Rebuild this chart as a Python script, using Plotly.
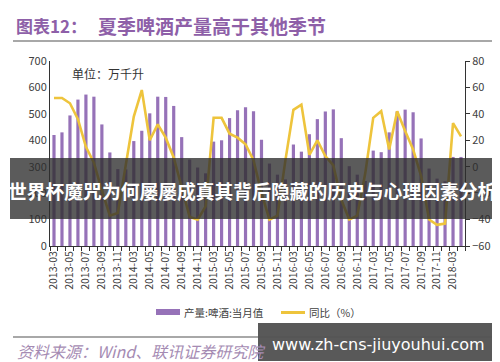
import plotly.graph_objects as go

# ---------------- data ----------------
months = [
    "2013-03", "2013-04", "2013-05", "2013-06", "2013-07", "2013-08", "2013-09", "2013-10", "2013-11", "2013-12",
    "2014-03", "2014-04", "2014-05", "2014-06", "2014-07", "2014-08", "2014-09", "2014-10", "2014-11", "2014-12",
    "2015-03", "2015-04", "2015-05", "2015-06", "2015-07", "2015-08", "2015-09", "2015-10", "2015-11", "2015-12",
    "2016-03", "2016-04", "2016-05", "2016-06", "2016-07", "2016-08", "2016-09", "2016-10", "2016-11", "2016-12",
    "2017-03", "2017-04", "2017-05", "2017-06", "2017-07", "2017-08", "2017-09", "2017-10", "2017-11", "2017-12",
    "2018-03", "2018-04",
]

production = [
    420, 430, 494, 554, 573, 565, 460, 354, 291, 290,
    397, 436, 502, 565, 564, 530, 412, 327, 297, 275,
    395, 400, 484, 514, 525, 510, 402, 312, 270, 252,
    384, 357, 423, 480, 509, 517, 408, 302, 270, 246,
    361, 355, 430, 509, 516, 506, 407, 293, 255, 245,
    337, 337,
]

yoy = [
    52, 52, 48, 36, 15, 3, -18, -37, -35, 2,
    38, 58, 20, 32, 22, 7, -15, -38, -40, -30,
    37, 37, 25, 22, 17, 5, -20, -40, -37, 5,
    43, 47, 9, 20, 8, 1, -25, -40, -37, -5,
    37, 42, 13, 42, 27, 13, -7, -40, -44, -43,
    33, 23,
]

tick_labels = [m if i % 2 == 0 else "" for i, m in enumerate(months)]

bar_name = "产量:啤酒:当月值"
line_name = "同比（%）"
title_prefix = "图表12："
title_text = "夏季啤酒产量高于其他季节"
unit_text = "单位：万千升"
source_text = "资料来源：Wind、联讯证券研究院"
banner_text = "世界杯魔咒为何屡屡成真其背后隐藏的历史与心理因素分析"
watermark_text = "www.zh-cns-jiuyouhui.com"

# ---------------- layout helpers ----------------
W, H = 500, 362
L, R, T, B = 42, 457, 53, 238


def px(x):
    return (x - L) / (R - L)


def py(y):
    return (B - y) / (B - T)


BAR_COLOR = "#9672B8"
LINE_COLOR = "#EEC43C"
PURPLE = "#8E5FA8"
CJK = "Noto Sans CJK SC"
AXIS_FONT = dict(family=CJK, size=10.5, color="#404040")

fig = go.Figure()
fig.add_bar(x=months, y=production, name=bar_name, marker=dict(color=BAR_COLOR, line=dict(width=0)), yaxis="y")
fig.add_scatter(x=months, y=yoy, name=line_name, mode="lines",
                line=dict(color=LINE_COLOR, width=2.6), yaxis="y2")

fig.update_layout(
    width=W, height=H, autosize=False,
    margin=dict(l=L, r=W - R, t=T, b=H - B, pad=0),
    paper_bgcolor="white", plot_bgcolor="white",
    showlegend=False, bargap=0.6,
    font=dict(family=CJK, color="#404040"),
    xaxis=dict(
        type="category", tickmode="array", tickvals=months, ticktext=tick_labels,
        tickangle=-90, ticks="outside", tickson="boundaries", ticklen=4, tickcolor="#333",
        showline=True, linecolor="#333", linewidth=1, showgrid=False, zeroline=False,
        tickfont=AXIS_FONT,
    ),
    yaxis=dict(
        range=[0, 700], dtick=100, showline=True, linecolor="#333", linewidth=1,
        ticks="", showgrid=False, zeroline=False, tickfont=dict(family=CJK, size=11, color="#404040"),
    ),
    yaxis2=dict(
        overlaying="y", side="right", range=[-60, 80], dtick=20, showline=True,
        linecolor="#333", linewidth=1, ticks="outside", ticklen=4, tickcolor="#333",
        showgrid=False, zeroline=False, tickfont=dict(family=CJK, size=11, color="#404040"),
    ),
)

shapes = [
    # title underline
    dict(type="line", xref="paper", yref="paper", x0=px(5), x1=px(490), y0=py(33), y1=py(33),
         line=dict(color="#A8A8A8", width=2)),
    # bottom source line
    dict(type="line", xref="paper", yref="paper", x0=px(5), x1=px(490), y0=py(329), y1=py(329),
         line=dict(color="#A8A8A8", width=2)),
    # legend bar symbol
    dict(type="rect", xref="paper", yref="paper", x0=px(148), x1=px(172), y0=py(307), y1=py(301),
         fillcolor=BAR_COLOR, line=dict(width=0)),
    # legend line symbol
    dict(type="line", xref="paper", yref="paper", x0=px(273), x1=px(297), y0=py(304.5), y1=py(304.5),
         line=dict(color=LINE_COLOR, width=3)),
    # dark banner overlay
    dict(type="rect", xref="paper", yref="paper", x0=px(2), x1=px(498), y0=py(211), y1=py(150),
         fillcolor="rgba(45,45,45,0.78)", line=dict(width=0), layer="above"),
    # watermark box
    dict(type="rect", xref="paper", yref="paper", x0=px(250), x1=px(491), y0=py(353), y1=py(315),
         fillcolor="rgba(82,82,82,0.96)", line=dict(width=0), layer="above"),
]

annotations = [
    dict(text="<b>" + title_prefix + "</b>", x=px(6), y=py(18), font=dict(family=CJK, size=17, color=PURPLE)),
    dict(text="<b>" + title_text + "</b>", x=px(88), y=py(18), font=dict(family=CJK, size=19, color=PURPLE)),
    dict(text=unit_text, x=px(62), y=py(65), font=dict(family=CJK, size=12, color="#333333")),
    dict(text=bar_name, x=px(174), y=py(304), font=dict(family=CJK, size=10.5, color="#404040")),
    dict(text=line_name, x=px(299), y=py(304), font=dict(family=CJK, size=10.5, color="#404040")),
    dict(text=source_text, x=px(7), y=py(343), font=dict(family=CJK, size=16, color="#A58BB3", style="italic")),
    dict(text="<b>" + banner_text + "</b>", x=px(244), y=py(182), xanchor="center",
         font=dict(family=CJK, size=18.8, color="white")),
    dict(text=watermark_text, x=px(370), y=py(336), xanchor="center",
         font=dict(family="DejaVu Sans", size=16, color="white")),
]
for a in annotations:
    a.setdefault("xanchor", "left")
    a.update(xref="paper", yref="paper", yanchor="middle", showarrow=False)

fig.update_layout(shapes=shapes, annotations=annotations)

fig.write_html("out.html")
